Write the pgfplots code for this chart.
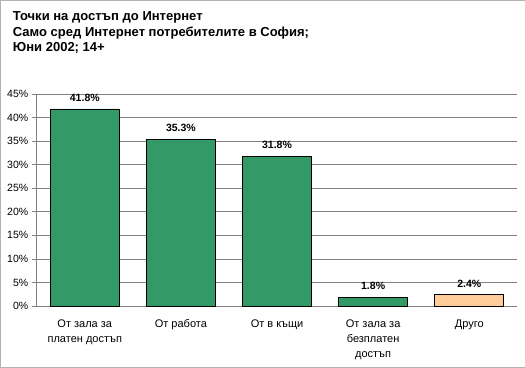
\documentclass[border=0pt]{standalone}
\usepackage{fontspec}
\setmainfont{Liberation Sans}
\usepackage{pgfplots}
\pgfplotsset{compat=1.18}
\definecolor{barg}{HTML}{339966}
\definecolor{baro}{HTML}{FFCC99}
\definecolor{gridc}{HTML}{808080}
\begin{document}
\begin{tikzpicture}[x=1pt,y=1pt]
\draw[draw=gray!60, fill=white] (0.5,0.5) rectangle (524.5,367.5);
\node[anchor=north west, align=left, font=\fontsize{13}{15.5}\selectfont\bfseries, inner sep=0pt] at (13,368-12) {Точки на достъп до Интернет\\Само сред Интернет потребителите в София;\\Юни 2002; 14+};
\begin{axis}[
  at={(37pt,62pt)}, anchor=south west,
  scale only axis, width=480pt, height=212pt,
  xmin=-0.5, xmax=4.5, ymin=0, ymax=45,
  ytick={0,5,...,45},
  yticklabel={\pgfmathprintnumber{\tick}\%},
  /pgf/number format/assume math mode=true,
  ymajorgrids, grid style={gridc, line width=0.6pt},
  axis x line*=bottom, axis y line*=left,
  axis line style={gridc, line width=0.6pt},
  tick style={gridc, line width=0.6pt},
  tick align=outside, major tick length=5pt,
  xtick={0,1,2,3,4},
  xticklabels={{От зала за\\платен достъп},{От работа},{От в къщи},{От зала за\\безплатен\\достъп},{Друго}},
  x tick label style={align=center, font=\fontsize{11}{15}\selectfont, yshift=-5pt},
  xtick style={draw=none},
  extra x ticks={-0.5,0.5,1.5,2.5,3.5,4.5},
  extra x tick labels={},
  extra x tick style={tick style={gridc, line width=0.6pt}, major tick length=5pt, grid=none},
  y tick label style={font=\fontsize{10.5}{12}\selectfont},
  ybar, bar width=69pt,
  nodes near coords={\pgfmathprintnumber[fixed,precision=1,fixed zerofill]{\pgfplotspointmeta}\%},
  nodes near coords style={font=\fontsize{10.5}{12}\selectfont\bfseries, yshift=4pt},
]
\addplot[draw=black, fill=barg, line width=0.6pt, bar shift=0pt] coordinates {(0,41.8) (1,35.3) (2,31.8) (3,1.8)};
\addplot[draw=black, fill=baro, line width=0.6pt, bar shift=0pt] coordinates {(4,2.4)};
\end{axis}
\end{tikzpicture}
\end{document}
